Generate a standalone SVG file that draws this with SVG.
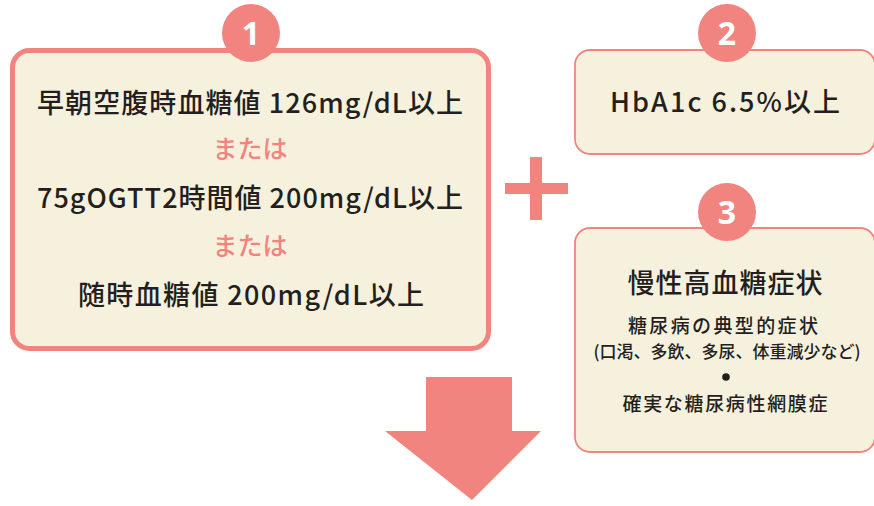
<svg xmlns="http://www.w3.org/2000/svg" width="874" height="506" viewBox="0 0 874 506">
<style>
.box{fill:#f6f1dc;stroke:#f2847f}
.num{fill:#f2847f}
.numt{fill:#ffffff;font-family:"Noto Sans","Noto Sans CJK JP",sans-serif;font-weight:bold;font-size:32px;text-anchor:middle}
.t{fill:#231f20;font-family:"Noto Sans CJK JP","Noto Sans",sans-serif;text-anchor:middle;font-weight:500}
.p{fill:#f2847f;font-family:"Noto Sans CJK JP",sans-serif;text-anchor:middle;font-size:25px;font-weight:500}
.shape{fill:#f2847f}
</style>
<g id="node1">
<rect class="box" x="12.5" y="50.5" width="476" height="298" rx="17" stroke-width="5"/>
<circle class="num" cx="251" cy="33" r="29"/>
<text class="numt" x="251" y="45">1</text>
<text class="t" x="250" y="113" font-size="27" textLength="426" lengthAdjust="spacing">早朝空腹時血糖値 126mg/dL以上</text>
<text class="p" x="250" y="158">または</text>
<text class="t" x="250" y="208" font-size="27" textLength="426" lengthAdjust="spacing">75gOGTT2時間値 200mg/dL以上</text>
<text class="p" x="250" y="255">または</text>
<text class="t" x="251" y="305" font-size="27" textLength="346" lengthAdjust="spacing">随時血糖値 200mg/dL以上</text>
</g>
<g id="node2">
<rect class="box" x="575" y="50" width="300" height="104" rx="15" stroke-width="1.8"/>
<circle class="num" cx="727" cy="33" r="29"/>
<text class="numt" x="727" y="45">2</text>
<text class="t" x="725" y="112" font-size="27" textLength="230" lengthAdjust="spacing">HbA1c 6.5%以上</text>
</g>
<g id="node3">
<rect class="box" x="575" y="228" width="300" height="224" rx="15" stroke-width="1.8"/>
<circle class="num" cx="727" cy="212" r="29"/>
<text class="numt" x="727" y="224">3</text>
<text class="t" x="725" y="293" font-size="27" font-weight="700" textLength="195" lengthAdjust="spacing">慢性高血糖症状</text>
<text class="t" x="723" y="333" font-size="19" textLength="190" lengthAdjust="spacing">糖尿病の典型的症状</text>
<text class="t" x="727" y="358" font-size="17">(口渇、多飲、多尿、体重減少など)</text>
<circle cx="726" cy="377" r="3.8" fill="#231f20"/>
<text class="t" x="725" y="411" font-size="19" textLength="205" lengthAdjust="spacing">確実な糖尿病性網膜症</text>
</g>
<g id="connectors">
<rect class="shape" x="505" y="183" width="63" height="11"/>
<rect class="shape" x="530" y="157" width="12" height="63"/>
<polygon class="shape" points="426,377 512,377 512,431 541,431 472,500 385,431 426,431"/>
</g>
</svg>
